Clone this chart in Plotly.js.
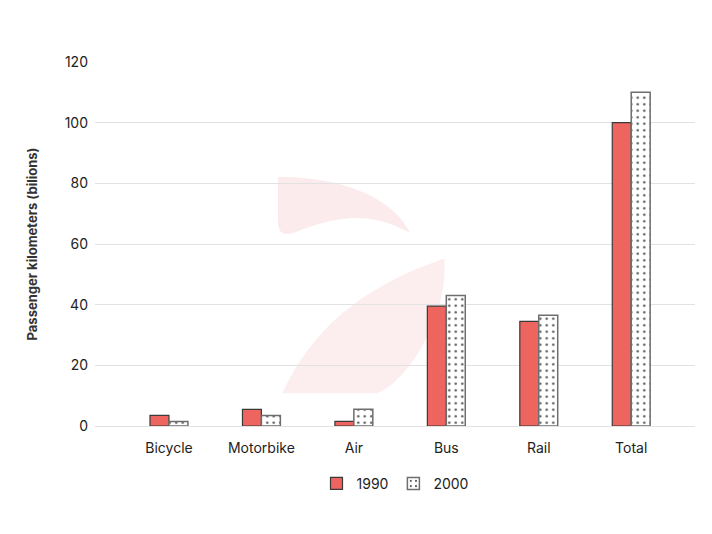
<!DOCTYPE html>
<html>
<head>
<meta charset="utf-8">
<script src="https://cdn.plot.ly/plotly-3.0.1.min.js"></script>
<style>html,body{margin:0;padding:0;background:#fff;}#chart{width:712px;height:534px;}</style>
</head>
<body>
<div id="chart"></div>
<script>
const categories = ["Bicycle", "Motorbike", "Air", "Bus", "Rail", "Total"];
const values1990 = [3.5, 5.5, 1.5, 39.5, 34.5, 100];
const values2000 = [1.5, 3.5, 5.5, 43, 36.5, 110];
const seriesNames = ["1990", "2000"];
const yTicks = [0, 20, 40, 60, 80, 100, 120];

const traces = [
  {
    type: "bar", name: seriesNames[0], x: categories, y: values1990,
    marker: {color: "#EE645E", line: {color: "#3a3a3a", width: 1.2}}
  },
  {
    type: "bar", name: seriesNames[1], x: categories, y: values2000,
    marker: {color: "#ffffff", line: {color: "#6e6e6e", width: 1.5},
      pattern: {shape: ".", fgcolor: "#555555", bgcolor: "#ffffff", size: 6.5, solidity: 0.12}}
  }
];

const layout = {
  width: 712, height: 534,
  font: {family: "Inter, 'Open Sans', sans-serif", size: 14, color: "#222"},
  paper_bgcolor: "#fff", plot_bgcolor: "rgba(0,0,0,0)",
  margin: {l: 95, r: 17, t: 62, b: 108},
  barmode: "group", bargap: 0.59, bargroupgap: 0,
  xaxis: {range: [-0.8, 5.69], showgrid: false, showline: false, ticks: "", ticklabelstandoff: 12,
    tickfont: {size: 14, color: "#222"}},
  yaxis: {range: [0, 120], tickvals: yTicks, showgrid: true, gridcolor: "#e2e2e2", gridwidth: 1,
    zeroline: true, zerolinecolor: "#e2e2e2", zerolinewidth: 1, ticks: "", ticklen: 0, ticklabelstandoff: 6,
    tickfont: {size: 14, color: "#222"},
    title: {text: "<b>Passenger kilometers (bilions)</b>", font: {size: 13, color: "#333"}, standoff: 24}},
  legend: {orientation: "h", x: 0.5, xanchor: "center", y: -0.115, yanchor: "top", font: {size: 14, color: "#222"},
    itemwidth: 30},
  shapes: [
    {type: "path", xref: "paper", yref: "paper", layer: "below",
     path: "M 0.305 0.684 L 0.32 0.684 C 0.42 0.68 0.5 0.62 0.525 0.53 C 0.47 0.58 0.42 0.59 0.33 0.53 C 0.31 0.52 0.305 0.54 0.305 0.56 Z",
     fillcolor: "rgba(232,110,120,0.14)", line: {width: 0}},
    {type: "path", xref: "paper", yref: "paper", layer: "below",
     path: "M 0.312 0.09 C 0.36 0.26 0.44 0.38 0.582 0.46 C 0.59 0.3 0.52 0.12 0.47 0.09 Z",
     fillcolor: "rgba(232,110,120,0.12)", line: {width: 0}}
  ]
};

Plotly.newPlot("chart", traces, layout, {displayModeBar: false, staticPlot: true});
</script>
</body>
</html>
